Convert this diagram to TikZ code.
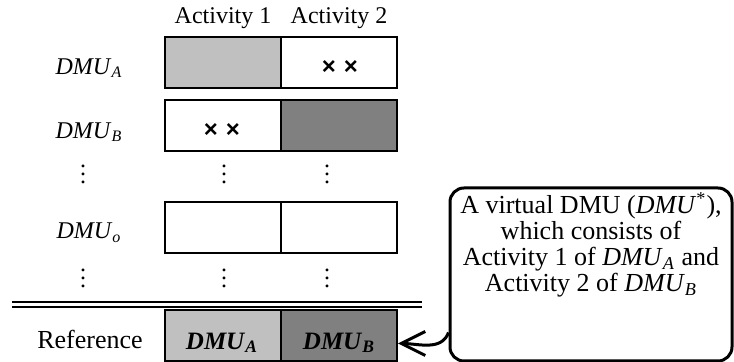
\documentclass[tikz,border=0pt]{standalone}
\usepackage{fontspec}
\setmainfont{Liberation Serif}
\setsansfont{Liberation Sans}
\usetikzlibrary{arrows.meta}
\definecolor{lightcell}{RGB}{192,192,192}
\definecolor{darkcell}{RGB}{128,128,128}
\newcommand{\dmu}[1]{\textit{DMU}\textsubscript{\textit{#1}}}
\newcommand{\dmubold}[1]{\textbf{\textit{DMU}\textsubscript{\textit{#1}}}}
\begin{document}
\begin{tikzpicture}[x=0.5pt,y=-0.5pt]
        \tikzstyle{cell}=[draw=black,line width=1pt,minimum width=58pt,minimum height=25.5pt,inner sep=0pt]
        \tikzstyle{light}=[cell,fill=lightcell]
        \tikzstyle{dark}=[cell,fill=darkcell]
        \tikzstyle{txt}=[inner sep=0pt,font=\fontsize{12}{13}\selectfont]
        \tikzstyle{bigtxt}=[inner sep=0pt,font=\fontsize{13}{13}\selectfont]
        \tikzstyle{cross}=[inner sep=0pt,font=\sffamily\bfseries\fontsize{12}{12}\selectfont]
        \tikzstyle{bubble}=[draw=black,line width=1.5pt,rounded corners=7pt,minimum width=141pt,minimum height=86.5pt]
        \tikzstyle{pointer}=[draw,line width=1.5pt,-{Straight Barb[length=12pt,width=12pt]}]
        \useasboundingbox (0,0) rectangle (734,362);
       \begin{scope}
         % column heads
         \node [txt] (act1) at (223,18) {Activity 1};
         \node [txt] (act2) at (339,18) {Activity 2};
         % DMU rows
         \node [txt] (nameA) at (89,68) {\dmu{A}};
         \node [light] (a1) at (223,62.3) {};
         \node [cell] (a2) at (339,62.3) {};
         \node [cross] (xa) at (340,68) {×\hspace{4pt}×};
         \node [txt] (nameB) at (89,132) {\dmu{B}};
         \node [cell] (b1) at (223,126) {};
         \node [dark] (b2) at (339,126) {};
         \node [cross] (xb) at (222,131) {×\hspace{4pt}×};
         \node [txt] (dotsA) at (83,168) {$\vdots$};
         \node [txt] (dotsB) at (224,168) {$\vdots$};
         \node [txt] (dotsC) at (327,168) {$\vdots$};
         \node [txt] (nameO) at (89,233) {\dmu{o}};
         \node [cell] (o1) at (223,228) {};
         \node [cell] (o2) at (339,228) {};
         \node [txt] (dotsD) at (83,272) {$\vdots$};
         \node [txt] (dotsE) at (224,272) {$\vdots$};
         \node [txt] (dotsF) at (327,272) {$\vdots$};
         % separator
         \coordinate (sepL) at (12,305);
         \coordinate (sepR) at (422,305);
         \draw [line width=1pt,double,double distance=1.5pt] (sepL) -- (sepR);
         % reference row
         \node [bigtxt] (nameR) at (90,339) {Reference};
         \node [light] (r1) at (223,335.5) {};
         \node [dark] (r2) at (339,335.5) {};
         \node [txt,font=\fontsize{12.5}{13}\selectfont] (refA) at (222,343) {\dmubold{A}};
         \node [txt,font=\fontsize{12.5}{13}\selectfont] (refB) at (339,343) {\dmubold{B}};
         % callout
         \node [bubble] (note) at (591,274.5) {};
         \node [bigtxt,align=center] (notetext) at (591,245) {A virtual DMU (\textit{DMU}\textsuperscript{*}),\\ which consists of\\ Activity 1 of \dmu{A} and\\ Activity 2 of \dmu{B}};
         \path[pointer] ([yshift=-29pt]note.west) to [out=-110,in=0] ([yshift=-4pt]r2.east);
        \end{scope}
      \end{tikzpicture}
\end{document}
